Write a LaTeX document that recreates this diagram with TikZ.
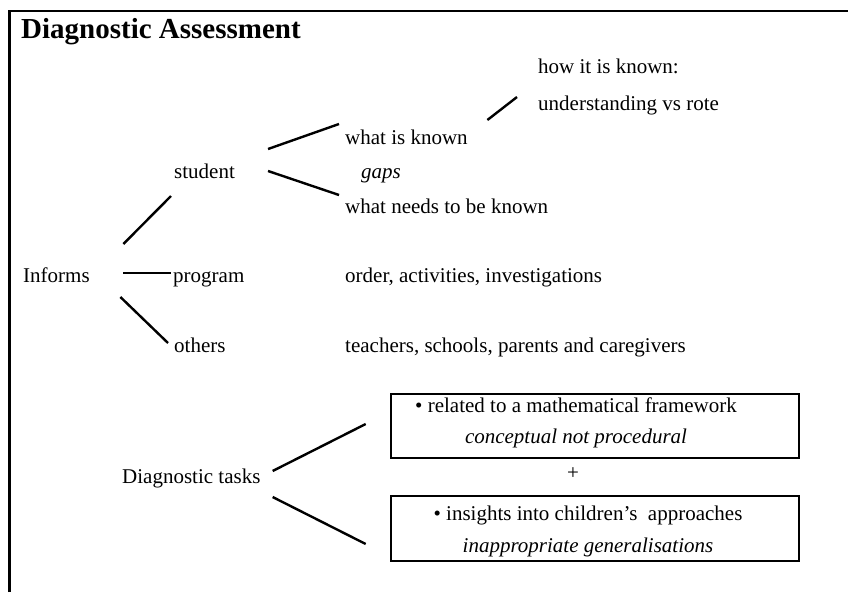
\documentclass[tikz,border=0pt]{standalone}
\usepackage{fontspec}
\setmainfont{Liberation Serif}
\usepackage{tikz}
\usetikzlibrary{positioning, calc}
\tikzstyle{plain} = [anchor=base west, inner sep=0pt, font=\fontsize{21}{25}\selectfont]
\tikzstyle{note} = [anchor=base west, inner sep=0pt, font=\fontsize{21}{25}\selectfont\itshape]
\tikzstyle{heading} = [anchor=base west, inner sep=0pt, font=\fontsize{29}{34}\selectfont\bfseries]
\tikzstyle{taskbox} = [rectangle, draw=black, line width=2.6pt, minimum width=408pt, minimum height=64pt]
\tikzstyle{tasktext} = [align=center, inner sep=0pt, font=\fontsize{21}{31.5}\selectfont]
\tikzstyle{branch} = [line width=2.4pt]

\begin{document}
\begin{tikzpicture}[x=1pt, y=-1pt]
  \useasboundingbox (0,0) rectangle (848,592);
  \draw [line width=2.6pt] (9.5,592) |- (848,11);

  %texts
  \node (title) [heading] at (21,38) {Diagnostic Assessment};
  \node (howknown) [plain] at (538,73) {how it is known:};
  \node (understanding) [plain, below=37pt of howknown.base west, anchor=base west] {understanding vs rote};
  \node (whatknown) [plain] at (345,144) {what is known};
  \node (student) [plain] at (174,178) {student};
  \node (gaps) [note] at (361,178) {gaps};
  \node (whatneeds) [plain, below=69pt of whatknown.base west, anchor=base west] {what needs to be known};
  \node (informs) [plain] at (23,282) {Informs};
  \node (program) [plain] at (173,282) {program};
  \node (order) [plain, below=69pt of whatneeds.base west, anchor=base west] {order, activities, investigations};
  \node (others) [plain] at (174,352) {others};
  \node (people) [plain, below=70pt of order.base west, anchor=base west] {teachers, schools, parents and caregivers};
  \node (tasks) [plain] at (122,483) {Diagnostic tasks};

  %boxes
  \node (box1) [taskbox] at (595,426) {};
  \node (box2) [taskbox, minimum height=65pt] at (595,528.5) {};
  \node (task1) [tasktext] at ($(box1)+(-19,-3)$) {\textbullet\ related to a mathematical framework\\ \textit{conceptual not procedural}};
  \node (plus) [tasktext] at (573,474) {+};
  \node (task2) [tasktext] at ($(box2)+(-7,3)$) {\textbullet\ insights into children’s~ approaches\\ \textit{inappropriate generalisations}};

  %branches
  \draw [branch] ($(informs.base east)+(33.5,-38)$) -- ($(student.base west)+(-3,18)$);
  \draw [branch] ($(informs.base east)+(33.5,-9)$) -- ($(program.base west)+(-2,-9)$);
  \draw [branch] ($(informs.base east)+(30.5,15)$) -- ($(others.base west)+(-6,-9)$);
  \draw [branch] ($(student.base east)+(33,-29)$) -- ($(whatknown.base west)+(-6,-20)$);
  \draw [branch] ($(student.base east)+(33,-7)$) -- ($(whatneeds.base west)+(-6,-18)$);
  \draw [branch] ($(whatknown.base east)+(19.5,-24)$) -- ($(understanding.base west)+(-21,-13)$);
  \draw [branch] ($(tasks.base east)+(12,-12)$) -- ($(box1.west)+(-24,-2)$);
  \draw [branch] ($(tasks.base east)+(12,14)$) -- ($(box2.west)+(-24,15.5)$);
\end{tikzpicture}
\end{document}
